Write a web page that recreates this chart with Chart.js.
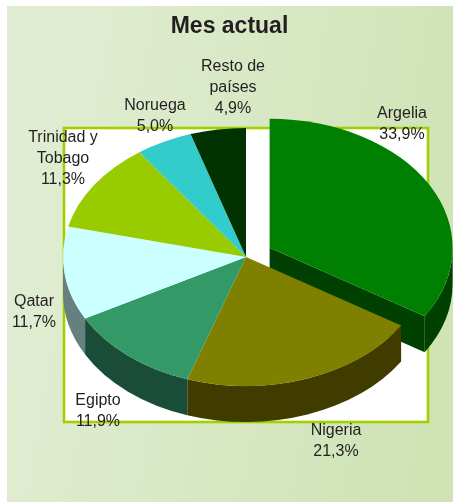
<!DOCTYPE html>
<html>
<head>
<meta charset="utf-8">
<style>html,body{margin:0;padding:0;background:#fff;overflow:hidden}#wrap{position:absolute;left:0;top:0;width:453px;height:502px}</style>
<script src="https://cdn.jsdelivr.net/npm/chart.js@4/dist/chart.umd.min.js"></script>
</head>
<body>
<div id="wrap"><canvas id="c" width="453" height="502"></canvas></div>
<script>
const categories = ["Argelia","Nigeria","Egipto","Qatar","Trinidad y Tobago","Noruega","Resto de países"];
const shares = [33.9,21.3,11.9,11.7,11.3,5.0,4.9];
const topColors = ["#008000","#808000","#339966","#ccffff","#99cc00","#33cccc","#003300"];
const wallColors = ["#004000","#403c00","#1a4d38","#668080","#4d6600","#1a6666","#001a00"];
const labelLines = [["Argelia"],["Nigeria"],["Egipto"],["Qatar"],["Trinidad y","Tobago"],["Noruega"],["Resto de","países"]];
const labelAnchors = [[402,114],[336,431],[98,401],[34,302],[63,138],[155,106],[233,67]];
const explode = [27,0,0,0,0,0,0];

const PIE = {x:246, y:257, r:183, squash:0.705, depth:36};
const FONT = '16px "Liberation Sans", Arial, sans-serif';

function geom(arc, i){
  const p = arc.getProps(['startAngle','endAngle']);
  const mid = (p.startAngle + p.endAngle)/2;
  const off = explode[i];
  return {a:p.startAngle, b:p.endAngle,
    cx: PIE.x + Math.cos(mid)*off,
    cy: PIE.y + Math.sin(mid)*off*PIE.squash};
}
function pt(g,ang,dy){
  return [g.cx + PIE.r*Math.cos(ang), g.cy + PIE.r*PIE.squash*Math.sin(ang) + dy];
}
let base = null;
const pie3d = {
  id:'pie3d',
  afterDatasetsUpdate(chart){
    const arcs = chart.getDatasetMeta(0).data;
    base = {x:arcs[0].x, y:arcs[0].y};
    arcs.forEach((arc,i)=>{
      const mid = (arc.startAngle + arc.endAngle)/2;
      arc.x += Math.cos(mid)*explode[i];
      arc.y += Math.sin(mid)*explode[i];
    });
  },
  beforeDraw(chart){
    const ctx = chart.ctx;
    ctx.save();
    ctx.fillStyle = '#fff';
    ctx.fillRect(0,0,453,502);
    const g = ctx.createLinearGradient(7,220,453,300);
    g.addColorStop(0,'#e1edd3');
    g.addColorStop(1,'#cfe3b5');
    ctx.fillStyle = g;
    ctx.fillRect(7,6,446,496);
    ctx.fillStyle = '#fff';
    ctx.fillRect(64,128,364,294);
    ctx.strokeStyle = '#a0d000';
    ctx.lineWidth = 2.6;
    ctx.strokeRect(64,128,364,294);
    ctx.restore();
  },
  beforeDatasetsDraw(chart){
    const ctx = chart.ctx, arcs = chart.getDatasetMeta(0).data;
    arcs.forEach((arc,i)=>{
      const g = geom(arc,i);
      const s = Math.max(g.a,0), e = Math.min(g.b,Math.PI);
      ctx.save();
      ctx.fillStyle = wallColors[i];
      if (explode[i]) {
        const q = pt(g,g.b,0);
        ctx.beginPath();
        ctx.moveTo(g.cx,g.cy);
        ctx.lineTo(q[0],q[1]);
        ctx.lineTo(q[0],q[1]+PIE.depth);
        ctx.lineTo(g.cx,g.cy+PIE.depth);
        ctx.closePath();
        ctx.fill();
      }
      if (e > s) {
        ctx.beginPath();
        ctx.ellipse(g.cx,g.cy,PIE.r,PIE.r*PIE.squash,0,s,e);
        ctx.ellipse(g.cx,g.cy+PIE.depth,PIE.r,PIE.r*PIE.squash,0,e,s,true);
        ctx.closePath();
        ctx.fill();
      }
      ctx.restore();
    });
    ctx.save();
    ctx.translate(PIE.x,PIE.y);
    ctx.scale(1,PIE.squash);
    ctx.translate(-base.x,-base.y);
  },
  afterDatasetsDraw(chart){
    const ctx = chart.ctx;
    ctx.restore();
    ctx.save();
    ctx.font = FONT;
    ctx.fillStyle = '#231f20';
    ctx.textAlign = 'center';
    ctx.textBaseline = 'middle';
    categories.forEach((c,i)=>{
      const lines = labelLines[i].concat(shares[i].toFixed(1).replace('.',',')+'%');
      lines.forEach((t,k)=>ctx.fillText(t,labelAnchors[i][0],labelAnchors[i][1]+k*21));
    });
    ctx.restore();
  }
};
new Chart(document.getElementById('c'),{
  type:'pie',
  data:{labels:categories,datasets:[{data:shares,backgroundColor:topColors,borderWidth:0,radius:PIE.r,clip:false}]},
  options:{
    responsive:false,animation:false,
    layout:{padding:{left:6,right:0,top:0,bottom:0}},
    plugins:{
      legend:{display:false},tooltip:{enabled:false},
      title:{display:true,text:'Mes actual',color:'#231f20',
        font:{family:'"Liberation Sans", Arial, sans-serif',size:23,weight:'bold'},
        padding:{top:13,bottom:4}}
    }
  },
  plugins:[pie3d]
});
</script>
</body>
</html>
